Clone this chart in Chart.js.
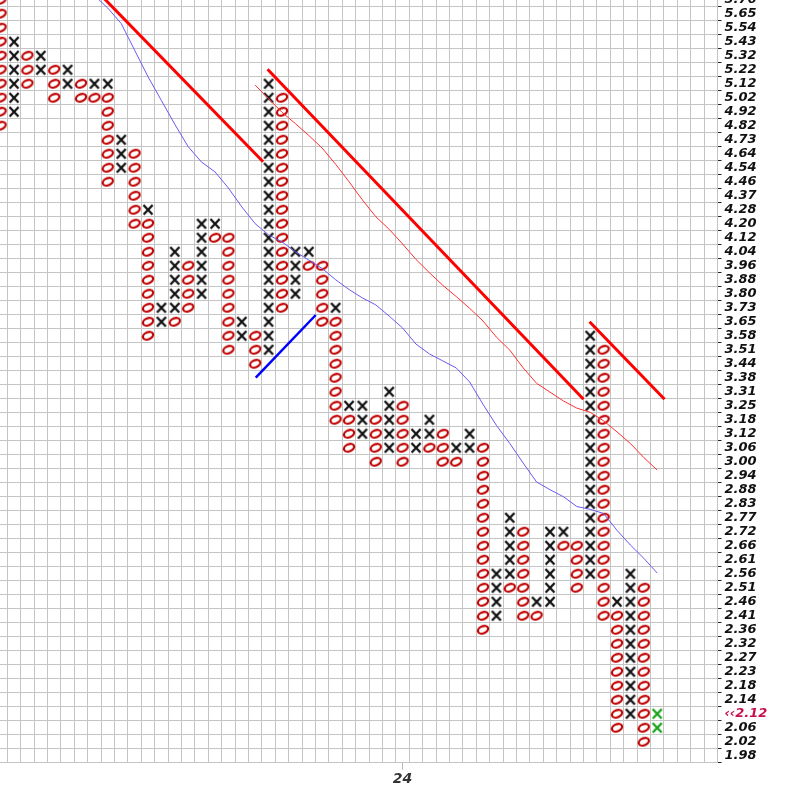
<!DOCTYPE html>
<html>
<head>
<meta charset="utf-8">
<script src="https://cdn.jsdelivr.net/npm/chart.js@4.4.0/dist/chart.umd.min.js"></script>
<style>
  html, body { margin: 0; padding: 0; background: #fff; }
  canvas { display: block; }
</style>
</head>
<body>
<canvas id="pfChart" width="808" height="805"></canvas>
<script>
// price of each box row, bottom to top (row index = place in list)
var rowLabels = ['1.98','2.02','2.06','\u2039\u20392.12','2.14','2.18','2.23','2.27','2.32','2.36',
  '2.41','2.46','2.51','2.56','2.61','2.66','2.72','2.77','2.83','2.88',
  '2.94','3.00','3.06','3.12','3.18','3.25','3.31','3.38','3.44','3.51',
  '3.58','3.65','3.73','3.80','3.88','3.96','4.04','4.12','4.20','4.28',
  '4.37','4.46','4.54','4.64','4.73','4.82','4.92','5.02','5.12','5.22',
  '5.32','5.43','5.54','5.65','5.76'];
var lastPriceRow = 3;

// date marker under the columns
var dateTickCols = [30];
var dateTickLabels = ['24'];

// box runs: [column, lowest row, highest row]
var xRuns = [[1,46,51],[3,49,50],[5,48,49],[7,48,48],[8,48,48],[9,42,44],[11,39,39],
  [12,31,32],[13,32,36],[15,33,38],[16,38,38],[18,30,31],[20,29,48],[22,33,36],
  [23,36,36],[25,32,32],[26,25,25],[27,23,25],[29,22,26],[31,22,23],[32,23,24],
  [34,22,22],[35,22,23],[37,10,13],[38,13,17],[40,11,11],[41,11,16],[42,16,16],
  [44,13,30],[46,11,11],[47,3,13]];
var oRuns = [[0,45,54],[2,48,50],[4,47,49],[6,47,48],[7,47,47],[8,41,47],[10,38,43],
  [11,30,38],[13,31,31],[14,32,35],[16,37,37],[17,29,37],[19,28,30],[21,32,47],
  [23,35,35],[24,31,35],[25,24,31],[26,22,24],[28,21,24],[30,21,25],[32,22,22],
  [33,21,23],[34,21,21],[36,9,22],[38,12,12],[39,10,16],[40,10,10],[42,15,15],
  [43,12,15],[45,10,29],[46,2,10],[48,1,12]];
var newXRuns = [[49,2,3]];

// trend lines, [column, row] end points
var resistance1 = [[6.8, 55.0], [19.59, 42.43]];
var resistance2 = [[19.92, 49.03], [43.5, 25.46]];
var resistance3 = [[43.95, 31.0], [49.55, 25.46]];
var support1 = [[19.04, 27.0], [23.52, 31.48]];

// moving average (blue) and upper band (thin red), one value per column
var maCols = [7,8,9,10,11,12,13,14,15,16,17,18,19,20,21,22,23,24,25,26,27,28,
  29,30,31,32,33,34,35,36,37,38,39,40,41,42,43,44,45,46,47,48,49];
var maRows = [54.3,53.4,52.3,50.4,48.5,46.8,45.1,43.5,42.4,41.7,40.55,39.2,38.0,
  37.2,36.7,36.0,35.4,34.8,34.0,33.3,32.7,32.2,31.4,30.55,29.4,28.7,28.2,27.7,
  26.7,25.1,23.6,22.3,20.9,19.55,19.0,18.5,17.8,17.6,17.3,16.1,15.05,14.1,13.05];
var bandCols = [19,20,21,22,23,24,25,26,27,28,29,30,31,32,33,34,35,36,37,38,39,
  40,41,42,43,44,45,46,47,48,49];
var bandRows = [47.9,46.93,45.96,45.15,44.3,43.4,42.25,41.0,39.7,38.5,37.6,36.55,
  35.45,34.5,33.6,32.8,31.96,31.05,29.9,28.97,27.7,26.6,25.97,25.34,24.83,24.53,
  23.92,23.13,22.3,21.3,20.4];

var gridColor = '#c4c4c4';

function makeX(color) {
  var c = document.createElement('canvas');
  c.width = 14; c.height = 14;
  var g = c.getContext('2d');
  g.strokeStyle = color;
  g.lineWidth = 2.3;
  g.beginPath();
  g.moveTo(2.4, 2.2); g.lineTo(11.4, 11.8);
  g.moveTo(11.6, 2.2); g.lineTo(2.6, 11.8);
  g.stroke();
  return c;
}

function makeO(color) {
  var c = document.createElement('canvas');
  c.width = 16; c.height = 14;
  var g = c.getContext('2d');
  g.strokeStyle = color;
  g.lineWidth = 2.2;
  g.beginPath();
  g.ellipse(8, 7, 5.3, 3.5, -0.4, 0, Math.PI * 2);
  g.stroke();
  return c;
}

function boxesFrom(runs) {
  var pts = [];
  runs.forEach(function(r) {
    for (var y = r[1]; y <= r[2]; y++) pts.push({x: r[0], y: y});
  });
  return pts;
}

function pairPoints(pairs) {
  return pairs.map(function(p) { return {x: p[0], y: p[1]}; });
}

function seriesPoints(cols, rows) {
  return cols.map(function(c, i) { return {x: c, y: rows[i]}; });
}

function lineSet(points, color, width) {
  return {
    data: points,
    showLine: true,
    borderColor: color,
    borderWidth: width,
    pointRadius: 0,
    tension: 0,
    fill: false
  };
}

function boxSet(points, img) {
  return {
    data: points,
    showLine: false,
    pointStyle: img,
    pointRadius: 1,
    pointBorderWidth: 0
  };
}

var colTicks = [];
for (var i = 0; i <= 53; i++) colTicks.push(i);

var ctx = document.getElementById('pfChart');
var pfChart = new Chart(ctx, {
  type: 'scatter',
  data: {
    datasets: [
      lineSet(pairPoints(resistance1), '#ff0000', 3),
      lineSet(pairPoints(resistance2), '#ff0000', 3),
      lineSet(pairPoints(resistance3), '#ff0000', 3),
      lineSet(pairPoints(support1), '#0000ff', 2.5),
      lineSet(seriesPoints(bandCols, bandRows), '#ff3030', 1),
      lineSet(seriesPoints(maCols, maRows), '#6a5af0', 1),
      boxSet(boxesFrom(xRuns), makeX('#111111')),
      boxSet(boxesFrom(oRuns), makeO('#c00000')),
      boxSet(boxesFrom(newXRuns), makeX('#1aa31a'))
    ]
  },
  options: {
    responsive: false,
    animation: false,
    events: [],
    layout: { padding: 0, autoPadding: false },
    plugins: {
      legend: { display: false },
      tooltip: { enabled: false }
    },
    scales: {
      x: {
        type: 'linear',
        position: 'bottom',
        min: -0.045,
        max: 53.5,
        afterBuildTicks: function(s) {
          s.ticks = colTicks.map(function(v) { return {value: v}; });
        },
        ticks: { display: false },
        grid: { offset: true, color: gridColor, drawTicks: false },
        border: { display: false },
        afterFit: function(s) { s.height = 0; s.paddingLeft = 0; s.paddingRight = 0; }
      },
      x2: {
        type: 'linear',
        position: 'bottom',
        min: -0.045,
        max: 53.5,
        afterBuildTicks: function(s) {
          s.ticks = dateTickCols.map(function(v) { return {value: v}; });
        },
        ticks: {
          callback: function(v) { return dateTickLabels[dateTickCols.indexOf(v)]; },
          color: '#333',
          padding: 1,
          maxRotation: 0,
          font: { family: 'DejaVu Sans', size: 14, style: 'italic', weight: 'bold' }
        },
        grid: { drawOnChartArea: false, color: '#b8b8b8', tickLength: 7 },
        border: { display: false },
        afterFit: function(s) { s.height = 42.3; s.paddingLeft = 0; s.paddingRight = 0; }
      },
      y: {
        type: 'linear',
        position: 'right',
        min: -0.5,
        max: 53.98,
        afterBuildTicks: function(s) {
          s.ticks = rowLabels.map(function(l, i) { return {value: i}; });
        },
        ticks: {
          autoSkip: false,
          padding: 3,
          callback: function(v) { return rowLabels[v]; },
          color: function(c) {
            return c.tick && c.tick.value === lastPriceRow ? '#c8104e' : '#111';
          },
          font: { family: 'DejaVu Sans', size: 13, style: 'italic', weight: 'bold' }
        },
        grid: { offset: true, color: gridColor, tickColor: '#222', tickLength: 4 },
        border: { display: false },
        afterFit: function(s) { s.width = 90.5; s.paddingTop = 0; s.paddingBottom = 0; }
      }
    }
  }
});
</script>
</body>
</html>
